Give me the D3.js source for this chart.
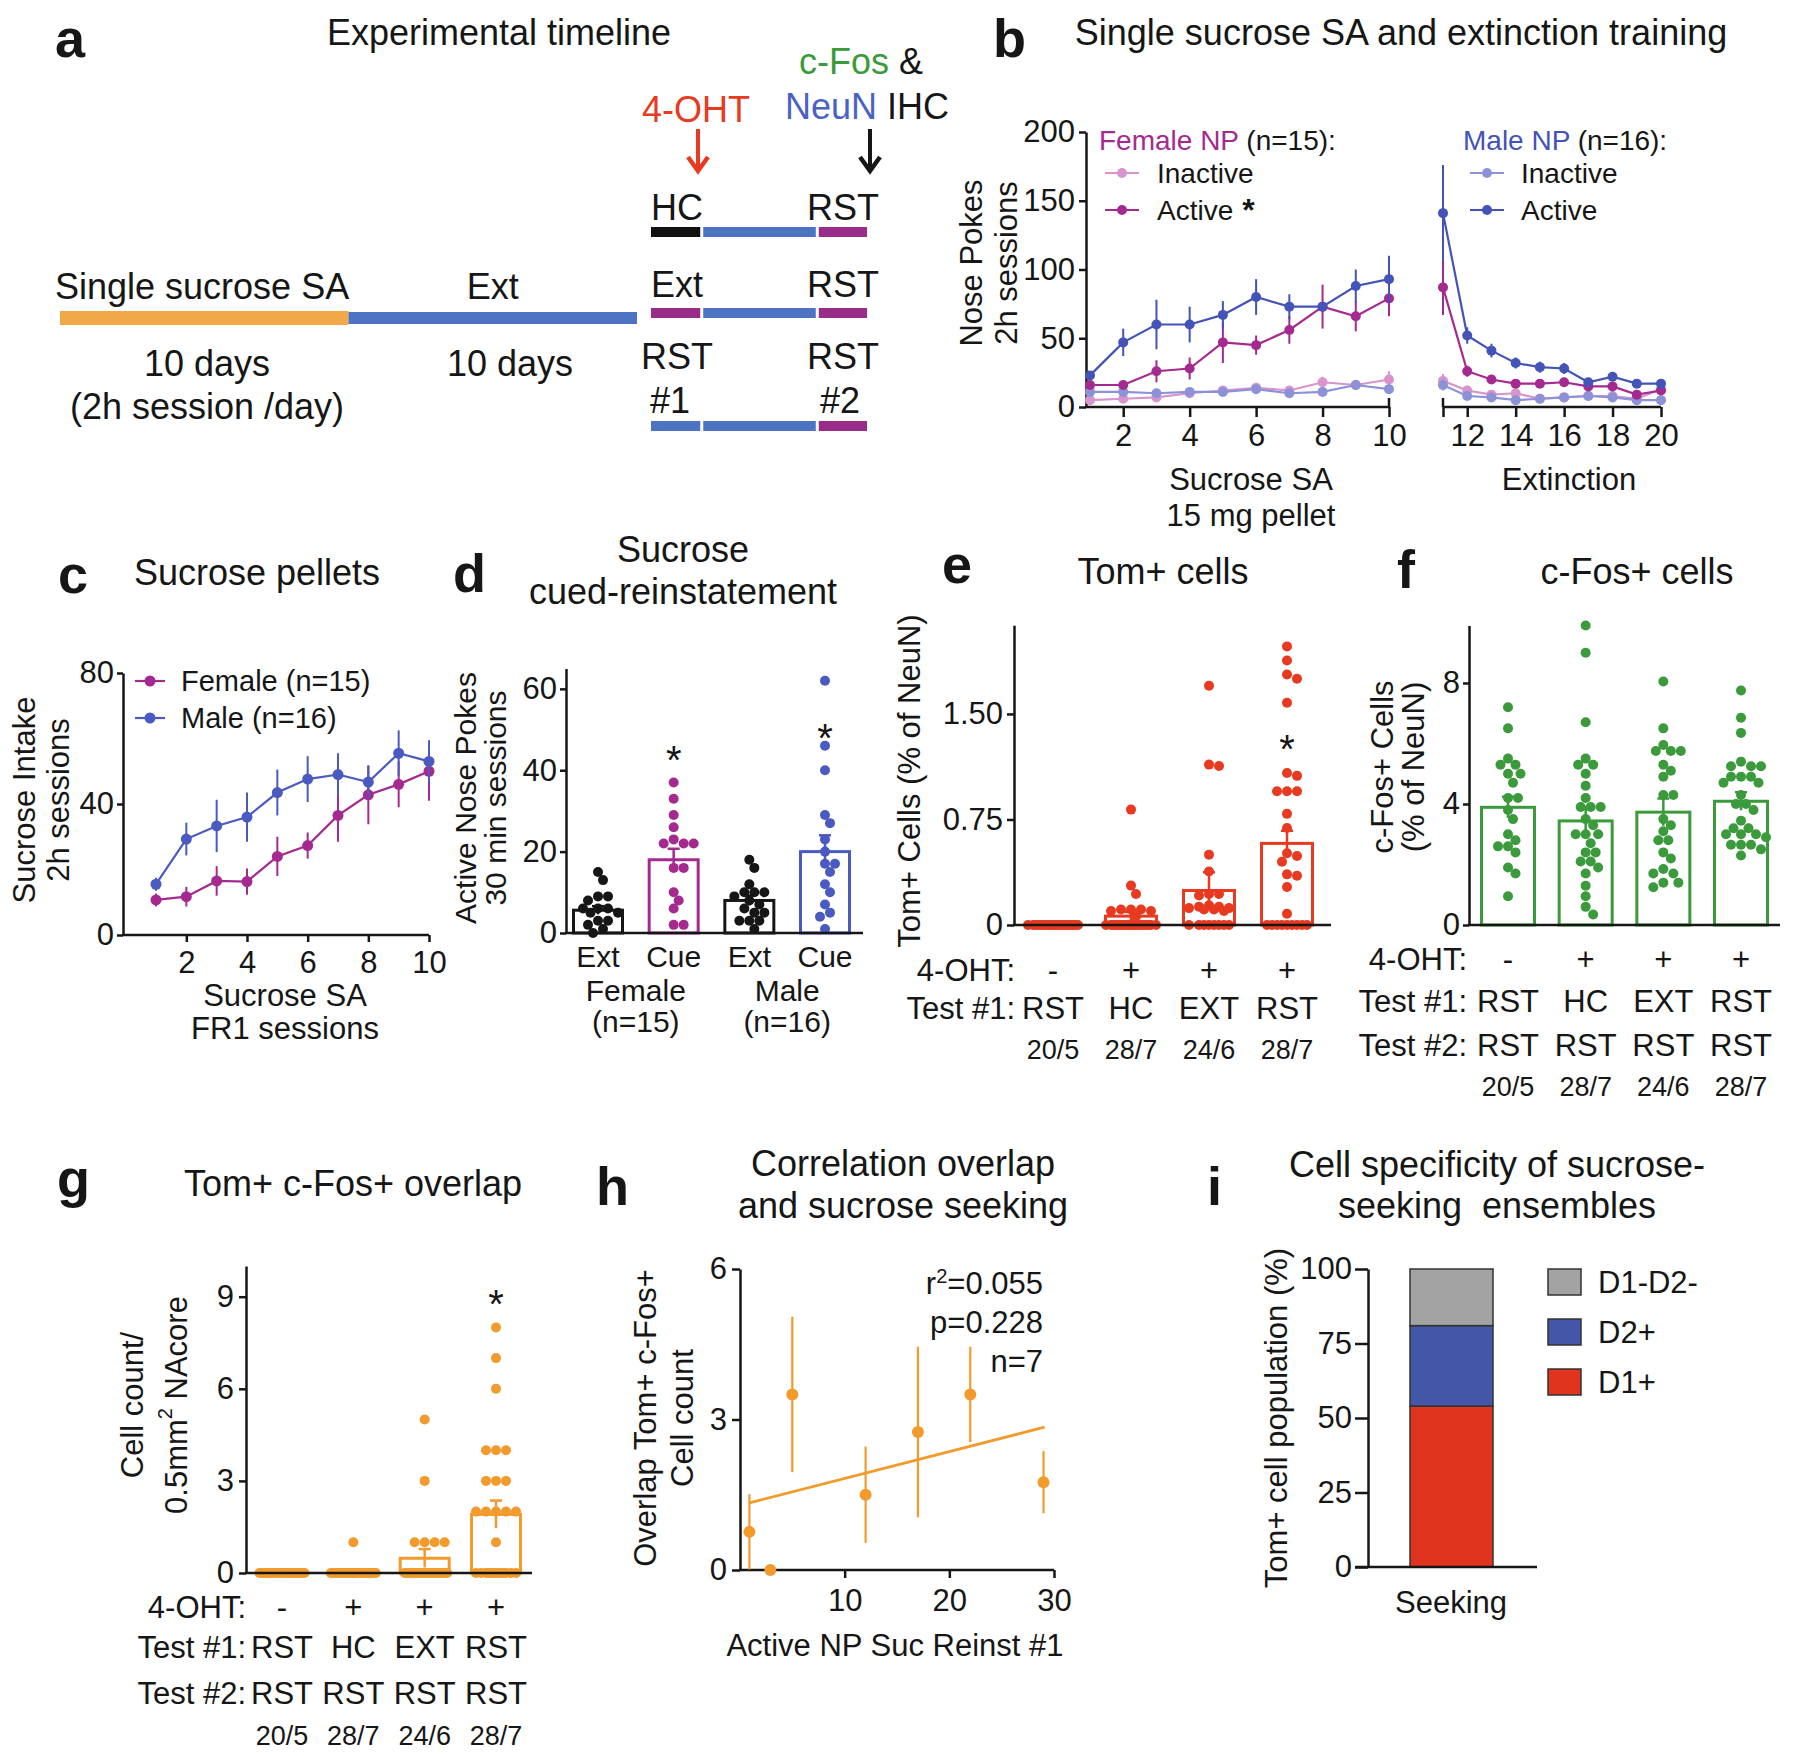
<!DOCTYPE html>
<html><head><meta charset="utf-8">
<script src="https://cdn.jsdelivr.net/npm/d3@7"></script>
<style>body{margin:0;background:#fff}text{white-space:pre}</style>
</head><body>
<script>
// ================= DATA =================
// Panel a (timeline)
const saPhases = ["Single sucrose SA", "Ext"];
const saDays = [10, 10];
const saDurLabels = [["10 days", "(2h session /day)"], ["10 days"]];
const testFirst = [["HC"], ["Ext"], ["RST", "#1"]];
const testSecond = [["RST"], ["RST"], ["RST", "#2"]];
const testSegUnits = [1, 2.3, 1];
const testSegColors = [["#111111", "#4d74c2", "#992c88"], ["#992c88", "#4d74c2", "#992c88"], ["#4d74c2", "#4d74c2", "#992c88"]];

// Panel b
const bSessions = [1,2,3,4,5,6,7,8,9,10,11,12,13,14,15,16,17,18,19,20];
const femaleActive   = [16,16,26,28,47,45,56,73,66,79, 87,26,20,17,17,18,15,15,9,12];
const femaleActiveE  = [3,3,8,8,15,7,10,16,11,13, 20,4,3,3,3,3,3,3,2,2];
const femaleInactive = [5,6,7,10,12,14,12,18,16,20, 19,12,9,10,6,7,8,8,6,13];
const femaleInactiveE= [2,2,2,2,3,3,3,4,3,6, 5,3,2,2,1,1,2,2,1,2];
const maleActive     = [23,47,60,60,67,80,73,73,88,93, 141,52,41,32,29,28,18,22,17,17];
const maleActiveE    = [3,10,18,13,10,13,9,3,12,17, 35,6,5,4,4,4,3,3,2,2];
const maleInactive   = [11,11,10,11,11,13,10,11,16,13, 16,8,7,5,6,7,8,7,5,5];
const maleInactiveE  = [2,2,2,2,2,2,2,3,3,2, 4,2,1,1,1,1,1,1,1,1];

// Panel c
const cSessions = [1,2,3,4,5,6,7,8,9,10];
const cFemale  = [10.7,11.7,16.5,16.3,24,27.3,36.5,42.8,46,50];
const cFemaleE = [2,3,4.5,4,6,4,8,9,7,9];
const cMale    = [15.5,29.3,33.3,36,43.5,47.6,49,46.7,55.5,53];
const cMaleE   = [2,5,8,7.5,7,7,6.5,5,7,6.5];

// Panel d
const dCats  = ["Ext", "Cue", "Ext", "Cue"];
const dSex   = [["Female", "(n=15)"], ["Male", "(n=16)"]];
const dMeans = [5.6, 18, 8, 20];
const dSem   = [1, 2.7, 1.2, 4];
const dStars = [null, 45, null, 50.5];
const dPoints = [
  [15,13,9,9,8,6,6,6,5,5,3,3,2,1,0],
  [37,33,29,26,23,22,22,22,16,16,10,8,6,2,2],
  [18,16,12,10,10,10,9,8,7,6,5,5,3,3,3,1],
  [62,46,40,29,27,23,20,17,17,15,12,10,7,5,4,1]
];

// Shared group labels e/f/g
const ohtLabels  = ["-", "+", "+", "+"];
const test1Labels = ["RST", "HC", "EXT", "RST"];
const test2Labels = ["RST", "RST", "RST", "RST"];
const nLabels = ["20/5", "28/7", "24/6", "28/7"];

// Panel e
const eMeans = [0, 0.063, 0.245, 0.58];
const eSem   = [0, 0.03, 0.13, 0.09];
const eStars = [null, null, null, 1.32];
const ePoints = [
  [0,0,0,0,0,0,0,0,0,0,0,0,0,0,0,0,0,0,0,0],
  [0.82,0.28,0.22,0.11,0.11,0.11,0.1,0.1,0.06,0,0,0,0,0,0,0,0,0,0,0,0,0,0,0,0,0,0,0],
  [1.70,1.14,1.13,0.50,0.38,0.22,0.22,0.21,0.14,0.13,0.13,0.12,0.12,0.11,0.11,0.1,0,0,0,0,0,0,0,0],
  [1.98,1.88,1.78,1.75,1.58,1.08,1.06,0.95,0.95,0.95,0.79,0.69,0.51,0.49,0.45,0.36,0.35,0.27,0.08,0,0,0,0,0,0,0,0,0]
];

// Panel f
const fMeans = [3.89, 3.44, 3.73, 4.09];
const fSem   = [0.35, 0.45, 0.45, 0.3];
const fPoints = [
  [7.2,6.5,5.5,5.3,5.3,5.0,5.0,4.7,4.2,4.2,3.8,3.5,3.0,2.8,2.6,2.6,2.4,1.9,1.7,0.95],
  [9.9,9.0,6.7,5.5,5.3,5.3,5.0,4.6,4.2,3.9,3.9,3.9,3.5,3.3,3.0,3.0,3.0,2.7,2.4,2.4,2.1,2.1,1.9,1.7,1.3,0.95,0.6,0.35],
  [8.05,6.5,5.95,5.75,5.75,5.75,5.3,5.1,4.9,4.3,4.3,3.5,3.3,3.1,2.8,2.8,2.4,2.2,1.85,1.7,1.7,1.4,1.4,1.25],
  [7.75,6.85,6.35,5.4,5.25,5.25,5.25,4.9,4.9,4.9,4.7,4.7,4.3,4.0,4.0,3.8,3.45,3.2,3.2,3.0,3.0,3.0,2.9,2.65,2.65,2.65,2.5,2.3]
];

// Panel g
const gMeans = [0, 0, 0.48, 1.91];
const gSem   = [0, 0, 0.3, 0.45];
const gStars = [null, null, null, 9.1];
const gPoints = [
  [0,0,0,0,0,0,0,0,0,0,0,0,0,0,0,0,0,0,0,0],
  [1,0,0,0,0,0,0,0,0,0,0,0,0,0,0,0,0,0,0,0,0,0,0,0,0,0,0,0],
  [5,3,1,1,1,1,0,0,0,0,0,0,0,0,0,0,0,0,0,0,0,0,0,0],
  [8,7,6,4,4,4,3,3,3,2,2,2,2,2,1,0,0,0,0,0,0,0,0,0,0,0,0,0]
];

// Panel h
const hX   = [0.9, 2.9, 5, 12, 17, 22, 29];
const hY   = [0.76, 0, 3.5, 1.5, 2.75, 3.5, 1.75];
const hErr = [0.75, 0, 1.55, 0.96, 1.7, 0.95, 0.62];
const hFit = [0.0535, 1.29]; // slope, intercept
const hStats = ["=0.055", "p=0.228", "n=7"];

// Panel i
const iCats   = ["D1+", "D2+", "D1-D2-"];
const iValues = [54, 27, 19];
const iColors = ["#e0341f", "#4456a8", "#a3a3a3"];

// ================= DRAWING =================
const FONT = "'Liberation Sans', Arial, Helvetica, sans-serif";
const INK = "#161616";
const C_FA = "#a52a8f", C_FI = "#d894cc", C_MA = "#4453b8", C_MI = "#8d92d8";
const C_RED = "#e83a20", C_GRN = "#3b9a3b", C_ORG = "#f39a2c";

const svg = d3.select("body").append("svg").attr("width", 1800).attr("height", 1756).style("display", "block");
svg.append("rect").attr("width", 1800).attr("height", 1756).attr("fill", "#fff");

function T(g, x, y, s, o = {}) {
  const t = g.append("text").attr("x", x).attr("y", y)
    .attr("font-family", FONT).attr("font-size", o.size || 31)
    .attr("text-anchor", o.anchor || "middle").attr("font-weight", o.weight || "normal")
    .attr("fill", o.fill || INK).attr("dominant-baseline", o.base || "central");
  if (s !== null) t.text(s);
  if (o.rotate !== undefined) t.attr("transform", `rotate(${o.rotate},${x},${y})`);
  return t;
}
function letter(x, y, s) { T(svg, x, y, s, { size: 54, weight: "bold", anchor: "start", base: "alphabetic" }); }
function line(g, x1, y1, x2, y2, c, w) {
  return g.append("line").attr("x1", x1).attr("y1", y1).attr("x2", x2).attr("y2", y2)
    .attr("stroke", c || INK).attr("stroke-width", w || 2.5);
}
function styleAxis(a, fs) {
  a.attr("font-family", FONT).attr("font-size", fs || 31);
  a.selectAll("path.domain").attr("stroke", INK).attr("stroke-width", 2.5);
  a.selectAll(".tick line").attr("stroke", INK).attr("stroke-width", 2.5);
  a.selectAll(".tick text").attr("fill", INK);
}
function swarm(vals, y, r, maxW) {
  const idx = vals.map((v, i) => i).sort((a, b) => vals[b] - vals[a]);
  const step = r / 2, cands = [0];
  for (let k = 1; k * step <= maxW + 1e-6; k++) cands.push(k * step, -k * step);
  const placed = [], out = new Array(vals.length);
  for (const i of idx) {
    const py = y(vals[i]); let best = 0, bestD = -1;
    for (const c of cands) {
      let m = Infinity;
      for (const q of placed) { const d = Math.hypot(c - q[0], py - q[1]); if (d < m) m = d; }
      if (m >= 1.9 * r) { best = c; break; }
      if (m > bestD + 0.01) { bestD = m; best = c; }
    }
    placed.push([best, py]); out[i] = [best, py];
  }
  return out;
}

// ---------- Panel a ----------
(function () {
  const g = svg.append("g");
  letter(55, 57, "a");
  T(g, 499, 32, "Experimental timeline", { size: 36 });
  const xT = d3.scaleLinear().domain([0, d3.sum(saDays)]).range([60, 637]);
  let acc = 0;
  const phaseCol = ["#f0a848", "#4d74c2"];
  saPhases.forEach((p, i) => {
    const x0 = xT(acc), x1 = xT(acc + saDays[i]);
    g.append("rect").attr("x", x0).attr("y", i === 0 ? 311 : 312).attr("width", x1 - x0).attr("height", i === 0 ? 14 : 12).attr("fill", phaseCol[i]);
    if (i === 0) T(g, 55, 286, p, { size: 36, anchor: "start" });
    else T(g, (x0 + x1) / 2, 286, p, { size: 36 });
    const cx = i === 0 ? 207 : 510;
    saDurLabels[i].forEach((s, j) => T(g, cx, 363 + j * 43, s, { size: 36 }));
    acc += saDays[i];
  });
  // test rows
  const xS = d3.scaleLinear().domain([0, d3.sum(testSegUnits)]).range([651, 867]);
  const rowLabY = [207, 284, 356], rowBarY = [232, 313, 426];
  testFirst.forEach((lab, r) => {
    let a2 = 0;
    testSegUnits.forEach((u, k) => {
      const x0 = xS(a2) + (k ? 2 : 0), x1 = xS(a2 + u) - (k < 2 ? 1 : 0);
      g.append("rect").attr("x", x0).attr("y", rowBarY[r] - 5).attr("width", x1 - x0).attr("height", 10).attr("fill", testSegColors[r][k]);
      a2 += u;
    });
    lab.forEach((s, j) => T(g, s.startsWith("#") ? 670 : 677, rowLabY[r] + j * 44, s, { size: 36 }));
    testSecond[r].forEach((s, j) => T(g, s.startsWith("#") ? 840 : 843, rowLabY[r] + j * 44, s, { size: 36 }));
  });
  // top labels
  const t1 = T(g, 861, 61, null, { size: 36 });
  t1.append("tspan").attr("fill", C_GRN).text("c-Fos");
  t1.append("tspan").attr("fill", INK).text(" &");
  T(g, 696, 109, "4-OHT", { size: 36, fill: C_RED });
  const t2 = T(g, 867, 106, null, { size: 36 });
  t2.append("tspan").attr("fill", "#4a62c2").text("NeuN");
  t2.append("tspan").attr("fill", INK).text(" IHC");
  [[698, C_RED], [870, INK]].forEach(([x, c]) => {
    line(g, x, 129, x, 170, c, 4);
    g.append("path").attr("d", `M${x - 10},${157} L${x},${171} L${x + 10},${157}`).attr("fill", "none").attr("stroke", c).attr("stroke-width", 4.5).attr("stroke-linejoin", "miter");
  });
})();

// ---------- Panel b ----------
(function () {
  const g = svg.append("g");
  letter(993, 57, "b");
  T(g, 1401, 32, "Single sucrose SA and extinction training", { size: 36 });
  const bx1 = d3.scaleLinear().domain([1, 10]).range([1090, 1389]);
  const bx2 = d3.scaleLinear().domain([11, 20]).range([1443, 1661]);
  const bx = s => s <= 10 ? bx1(s) : bx2(s);
  const by = d3.scaleLinear().domain([0, 200]).range([407, 132]);
  const ya = g.append("g").attr("transform", "translate(1086,0)")
    .call(d3.axisLeft(by).tickValues([0, 50, 100, 150, 200]).tickSize(7).tickPadding(4).tickSizeOuter(0));
  styleAxis(ya, 31);
  const xa1 = g.append("g").attr("transform", "translate(0,407)")
    .call(d3.axisBottom(bx1).tickValues([2, 4, 6, 8, 10]).tickSize(10).tickPadding(7).tickSizeOuter(0));
  styleAxis(xa1, 31); xa1.select(".domain").remove();
  const xa2 = g.append("g").attr("transform", "translate(0,407)")
    .call(d3.axisBottom(bx2).tickValues([11, 12, 14, 16, 18, 20]).tickFormat(d => d === 11 ? "" : d).tickSize(10).tickPadding(7).tickSizeOuter(0));
  styleAxis(xa2, 31); xa2.select(".domain").remove();
  line(g, 1085, 407, 1389, 407); line(g, 1443, 407, 1661, 407);
  line(g, 1389, 398, 1389, 407); line(g, 1443, 398, 1443, 407);

  const series = [
    [femaleInactive, femaleInactiveE, C_FI], [maleInactive, maleInactiveE, C_MI],
    [femaleActive, femaleActiveE, C_FA], [maleActive, maleActiveE, C_MA]
  ];
  series.forEach(([v, e, c]) => {
    const pts = bSessions.map((s, i) => ({ s, v: v[i], e: e[i] }));
    [pts.filter(p => p.s <= 10), pts.filter(p => p.s > 10)].forEach(seg => {
      g.append("path").datum(seg).attr("fill", "none").attr("stroke", c).attr("stroke-width", 2.2)
        .attr("d", d3.line().x(p => bx(p.s)).y(p => by(p.v)));
    });
    pts.forEach(p => {
      line(g, bx(p.s), by(Math.max(0, p.v - p.e)), bx(p.s), by(p.v + p.e), c, 2);
      g.append("circle").attr("cx", bx(p.s)).attr("cy", by(p.v)).attr("r", 5).attr("fill", c);
    });
  });
  // legends
  const l1 = T(g, 1099, 140, null, { size: 28, anchor: "start" });
  l1.append("tspan").attr("fill", C_FA).text("Female NP");
  l1.append("tspan").attr("fill", INK).text(" (n=15):");
  const l2 = T(g, 1463, 140, null, { size: 28, anchor: "start" });
  l2.append("tspan").attr("fill", C_MA).text("Male NP");
  l2.append("tspan").attr("fill", INK).text(" (n=16):");
  [[1105, 1139, 1157, [["Inactive", C_FI], ["Active", C_FA, true]]], [1470, 1504, 1521, [["Inactive", C_MI], ["Active", C_MA]]]].forEach(([a, b2, tx, items]) => {
    items.forEach(([s, c, star], k) => {
      const yy = 173 + k * 37;
      line(g, a, yy, b2, yy, c, 2.2);
      g.append("circle").attr("cx", (a + b2) / 2).attr("cy", yy).attr("r", 5).attr("fill", c);
      const t = T(g, tx, yy, s, { size: 28, anchor: "start" });
      if (star) t.append("tspan").attr("font-size", 32).attr("font-weight", "bold").text(" *");
    });
  });
  T(g, 971, 263, "Nose Pokes", { rotate: -90 });
  T(g, 1006, 263, "2h sessions", { rotate: -90 });
  T(g, 1251, 479, "Sucrose SA");
  T(g, 1251, 515, "15 mg pellet");
  T(g, 1569, 479, "Extinction");
})();

// ---------- Panel c ----------
(function () {
  const g = svg.append("g");
  letter(58, 593, "c");
  T(g, 257, 572, "Sucrose pellets", { size: 36 });
  const x = d3.scaleLinear().domain([1, 10]).range([156, 429]);
  const y = d3.scaleLinear().domain([0, 80]).range([935, 673]);
  const ya = g.append("g").attr("transform", "translate(123,0)")
    .call(d3.axisLeft(y).tickValues([0, 40, 80]).tickSize(6).tickPadding(3).tickSizeOuter(0));
  styleAxis(ya, 31);
  const xa = g.append("g").attr("transform", "translate(0,935)")
    .call(d3.axisBottom(x).tickValues([2, 4, 6, 8, 10]).tickSize(7).tickPadding(9).tickSizeOuter(0));
  styleAxis(xa, 31); xa.select(".domain").remove();
  line(g, 122, 935, 429, 935);
  [[cFemale, cFemaleE, C_FA], [cMale, cMaleE, "#4a5ac0"]].forEach(([v, e, c]) => {
    g.append("path").datum(cSessions).attr("fill", "none").attr("stroke", c).attr("stroke-width", 2.2)
      .attr("d", d3.line().x(s => x(s)).y((s, i) => y(v[i])));
    cSessions.forEach((s, i) => {
      line(g, x(s), y(v[i] - e[i]), x(s), y(v[i] + e[i]), c, 2);
      g.append("circle").attr("cx", x(s)).attr("cy", y(v[i])).attr("r", 5.5).attr("fill", c);
    });
  });
  [["Female (n=15)", C_FA, 681], ["Male (n=16)", "#4a5ac0", 718]].forEach(([s, c, yy]) => {
    line(g, 135, yy, 165, yy, c, 2.2);
    g.append("circle").attr("cx", 150).attr("cy", yy).attr("r", 5.5).attr("fill", c);
    T(g, 181, yy, s, { size: 29, anchor: "start" });
  });
  T(g, 24, 800, "Sucrose Intake", { rotate: -90 });
  T(g, 58, 800, "2h sessions", { rotate: -90 });
  T(g, 285, 995, "Sucrose SA");
  T(g, 285, 1028, "FR1 sessions");
})();

// ---------- generic bar chart ----------
function barChart(o) {
  const g = svg.append("g");
  const y = d3.scaleLinear().domain(o.yDomain).range(o.yRange);
  const x = d3.scalePoint().domain(d3.range(o.means.length)).range(o.xRange);
  const ya = g.append("g").attr("transform", `translate(${o.axisX},0)`)
    .call(d3.axisLeft(y).tickValues(o.ticks).tickFormat(o.fmt || (d => d)).tickSize(o.tickSize || 6).tickPadding(o.tickPad || 3).tickSizeOuter(0));
  styleAxis(ya, o.tickFs || 31);
  o.means.forEach((m, i) => {
    const c = o.colors[i], cx = x(i);
    g.append("rect").attr("x", cx - o.bw / 2).attr("y", y(m)).attr("width", o.bw).attr("height", y(0) - y(m))
      .attr("fill", "none").attr("stroke", c).attr("stroke-width", 3);
    const sw = swarm(o.points[i], y, o.r, o.maxW);
    sw.forEach(([dx, py]) => g.append("circle").attr("cx", cx + dx).attr("cy", py).attr("r", o.r).attr("fill", c));
    if (o.sem[i] > 0) {
      line(g, cx, y(Math.max(0, m - o.sem[i])), cx, y(m + o.sem[i]), c, 2.5);
      line(g, cx - 6, y(m + o.sem[i]), cx + 6, y(m + o.sem[i]), c, 2.5);
    }
    if (o.stars && o.stars[i] !== null) T(g, cx, y(o.stars[i]) + 10, "*", { size: 40, fill: INK });
  });
  line(g, o.axisX - 1, y(0), o.axisEnd, y(0));
  return { g, x, y };
}

// ---------- Panel d ----------
(function () {
  letter(453, 592, "d");
  const { g, x } = barChart({
    yDomain: [0, 65], yRange: [933, 668.5], xRange: [598, 825], axisX: 566, axisEnd: 863,
    ticks: [0, 20, 40, 60], tickSize: 6, tickPad: 3, means: dMeans, sem: dSem, points: dPoints,
    colors: [INK, C_FA, INK, "#4a5ac0"], bw: 49, r: 5, maxW: 24, stars: dStars
  });
  T(g, 683, 549, "Sucrose", { size: 36 });
  T(g, 683, 591, "cued-reinstatement", { size: 36 });
  dCats.forEach((s, i) => T(g, x(i), 956, s, { size: 30 }));
  dSex.forEach(([a, b2], k) => {
    const cx = (x(2 * k) + x(2 * k + 1)) / 2;
    T(g, cx, 990, a, { size: 30 });
    T(g, cx, 1021, b2, { size: 30 });
  });
  T(g, 465, 798, "Active Nose Pokes", { rotate: -90, size: 30 });
  T(g, 495, 798, "30 min sessions", { rotate: -90, size: 30 });
})();

function groupRows(g, x, rows, labelX, nY) {
  rows.forEach(([lab, vals, yy]) => {
    T(g, labelX, yy, lab, { anchor: "end" });
    vals.forEach((s, i) => T(g, x(i), yy, s));
  });
  nLabels.forEach((s, i) => T(g, x(i), nY, s, { size: 27 }));
}

// ---------- Panel e ----------
(function () {
  letter(942, 583, "e");
  const { g, x } = barChart({
    yDomain: [0, 2.13], yRange: [925, 625.3], xRange: [1053, 1287], axisX: 1014, axisEnd: 1331,
    ticks: [0, 0.75, 1.5], fmt: d => d === 0 ? "0" : d3.format(".2f")(d), tickSize: 7, tickPad: 4,
    means: eMeans, sem: eSem, points: ePoints, colors: [C_RED, C_RED, C_RED, C_RED], bw: 51, r: 5, maxW: 25, stars: eStars
  });
  T(g, 1163, 571, "Tom+ cells", { size: 36 });
  groupRows(g, x, [["4-OHT:", ohtLabels, 970], ["Test #1:", test1Labels, 1008]], 1015, 1050);
  T(g, 909, 781, "Tom+ Cells (% of NeuN)", { rotate: -90 });
})();

// ---------- Panel f ----------
(function () {
  letter(1397, 588, "f");
  const { g, x } = barChart({
    yDomain: [0, 9.9], yRange: [925, 625.5], xRange: [1508, 1741], axisX: 1469, axisEnd: 1780,
    ticks: [0, 4, 8], tickSize: 6, tickPad: 3,
    means: fMeans, sem: fSem, points: fPoints, colors: [C_GRN, C_GRN, C_GRN, C_GRN], bw: 53, r: 5, maxW: 30
  });
  T(g, 1637, 571, "c-Fos+ cells", { size: 36 });
  groupRows(g, x, [["4-OHT:", ohtLabels, 959], ["Test #1:", test1Labels, 1001], ["Test #2:", test2Labels, 1045]], 1467, 1087);
  T(g, 1382, 767, "c-Fos+ Cells", { rotate: -90 });
  T(g, 1413, 767, "(% of NeuN)", { rotate: -90 });
})();

// ---------- Panel g ----------
(function () {
  letter(57, 1197, "g");
  const { g, x } = barChart({
    yDomain: [0, 10], yRange: [1573, 1266], xRange: [282, 496], axisX: 246, axisEnd: 532,
    ticks: [0, 3, 6, 9], tickSize: 7, tickPad: 5,
    means: gMeans, sem: gSem, points: gPoints, colors: [C_ORG, C_ORG, C_ORG, C_ORG], bw: 49, r: 5, maxW: 24, stars: gStars
  });
  T(g, 353, 1183, "Tom+ c-Fos+ overlap", { size: 36 });
  groupRows(g, x, [["4-OHT:", ohtLabels, 1607], ["Test #1:", test1Labels, 1647], ["Test #2:", test2Labels, 1693]], 246, 1736);
  T(g, 132, 1405, "Cell count/", { rotate: -90 });
  const t = T(g, 176, 1405, null, { rotate: -90 });
  t.append("tspan").text("0.5mm");
  t.append("tspan").attr("font-size", 20).attr("baseline-shift", "super").text("2");
  t.append("tspan").text(" NAcore");
})();

// ---------- Panel h ----------
(function () {
  const g = svg.append("g");
  letter(596, 1205, "h");
  T(g, 903, 1163, "Correlation overlap", { size: 36 });
  T(g, 903, 1205, "and sucrose seeking", { size: 36 });
  const x = d3.scaleLinear().domain([0, 30]).range([740, 1054]);
  const y = d3.scaleLinear().domain([0, 6]).range([1570, 1269]);
  const ya = g.append("g").attr("transform", "translate(740,0)")
    .call(d3.axisLeft(y).tickValues([0, 3, 6]).tickFormat(d3.format("d")).tickSize(8).tickPadding(5).tickSizeOuter(0));
  styleAxis(ya, 31);
  const xa = g.append("g").attr("transform", "translate(0,1570)")
    .call(d3.axisBottom(x).tickValues([10, 20, 30]).tickFormat(d3.format("d")).tickSize(8).tickPadding(11).tickSizeOuter(0));
  styleAxis(xa, 31); xa.select(".domain").remove();
  line(g, 739, 1570, 1054, 1570);
  const x0 = d3.min(hX), x1 = d3.max(hX) + 0.1;
  line(g, x(x0), y(hFit[1] + hFit[0] * x0), x(x1), y(hFit[1] + hFit[0] * x1), C_ORG, 2.8);
  hX.forEach((xv, i) => {
    if (hErr[i] > 0) line(g, x(xv), y(Math.max(0, hY[i] - hErr[i])), x(xv), y(hY[i] + hErr[i]), C_ORG, 2.2);
    g.append("circle").attr("cx", x(xv)).attr("cy", y(hY[i])).attr("r", 6).attr("fill", C_ORG);
  });
  const s0 = T(g, 1043, 1294, null, { anchor: "end", base: "alphabetic" });
  s0.append("tspan").text("r");
  s0.append("tspan").attr("font-size", 20).attr("baseline-shift", "super").text("2");
  s0.append("tspan").text(hStats[0]);
  T(g, 1043, 1333, hStats[1], { anchor: "end", base: "alphabetic" });
  T(g, 1043, 1372, hStats[2], { anchor: "end", base: "alphabetic" });
  T(g, 895, 1645, "Active NP Suc Reinst #1");
  T(g, 645, 1418, "Overlap Tom+ c-Fos+", { rotate: -90 });
  T(g, 682, 1418, "Cell count", { rotate: -90 });
})();

// ---------- Panel i ----------
(function () {
  const g = svg.append("g");
  letter(1207, 1205, "i");
  T(g, 1497, 1164, "Cell specificity of sucrose-", { size: 36 });
  T(g, 1497, 1205, "seeking  ensembles", { size: 36 });
  const y = d3.scaleLinear().domain([0, 100]).range([1567, 1269]);
  const ya = g.append("g").attr("transform", "translate(1368,0)")
    .call(d3.axisLeft(y).tickValues([0, 25, 50, 75, 100]).tickSize(13).tickPadding(3).tickSizeOuter(0));
  styleAxis(ya, 31);
  const row = {}; iCats.forEach((c, k) => row[c] = iValues[k]);
  const stack = d3.stack().keys(iCats)([row]);
  stack.forEach((s, k) => {
    const d = s[0];
    g.append("rect").attr("x", 1410).attr("width", 83).attr("y", y(d[1])).attr("height", y(d[0]) - y(d[1]))
      .attr("fill", iColors[k]).attr("stroke", "#333").attr("stroke-width", 1.5);
  });
  line(g, 1355, 1567, 1537, 1567);
  T(g, 1451, 1602, "Seeking");
  iCats.slice().reverse().forEach((c, j) => {
    const k = iCats.length - 1 - j;
    const yy = 1282 + j * 50;
    g.append("rect").attr("x", 1548).attr("y", yy - 13).attr("width", 33).attr("height", 26)
      .attr("fill", iColors[k]).attr("stroke", "#333").attr("stroke-width", 1.5);
    T(g, 1598, yy, c, { anchor: "start" });
  });
  T(g, 1276, 1418, "Tom+ cell population (%)", { rotate: -90 });
})();
</script>
</body></html>
